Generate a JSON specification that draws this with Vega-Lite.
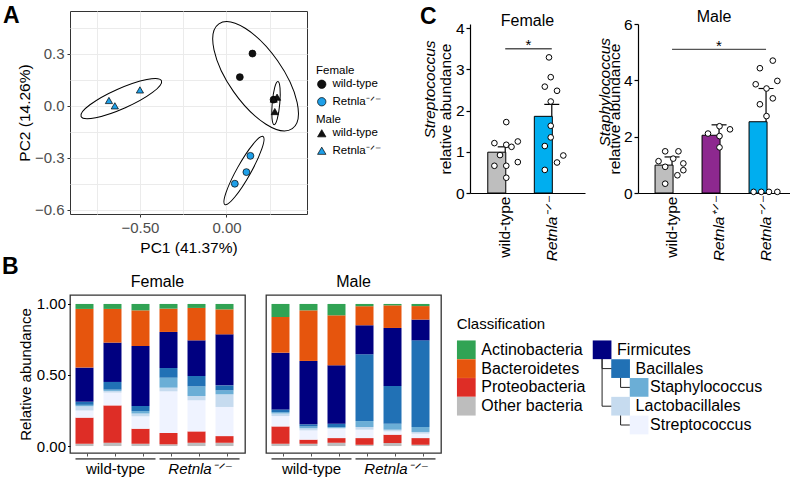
{
  "$schema": "https://vega.github.io/schema/vega-lite/v6.json",
  "background": "white",
  "padding": {"left": 2, "top": 4, "right": 0, "bottom": 0},
  "config": {
    "font": "Liberation Sans",
    "view": {"stroke": null},
    "axis": {"labelFont": "Liberation Sans", "titleFont": "Liberation Sans", "labelFontSize": 15, "titleFontSize": 15, "titleFontWeight": "normal", "labelColor": "black", "titleColor": "black", "domainColor": "black", "tickColor": "black", "grid": false, "labelFlush": false, "labelOverlap": false},
    "title": {"font": "Liberation Sans", "fontWeight": "normal", "fontSize": 16, "color": "black", "baseline": "alphabetic", "offset": 0},
    "text": {"font": "Liberation Sans"},
    "legend": {"labelFont": "Liberation Sans", "titleFont": "Liberation Sans"}
  },
  "datasets": {
    "pcaF": [
      {"pc1": 0.150, "pc2": 0.302, "genotype": "wild-type"},
      {"pc1": 0.077, "pc2": 0.166, "genotype": "wild-type"},
      {"pc1": 0.272, "pc2": 0.036, "genotype": "wild-type"},
      {"pc1": 0.138, "pc2": -0.289, "genotype": "Retnla-/-"},
      {"pc1": 0.115, "pc2": -0.383, "genotype": "Retnla-/-"},
      {"pc1": 0.048, "pc2": -0.450, "genotype": "Retnla-/-"}
    ],
    "pcaM": [
      {"pc1": 0.292, "pc2": 0.050, "genotype": "wild-type"},
      {"pc1": 0.273, "pc2": 0.039, "genotype": "wild-type"},
      {"pc1": 0.279, "pc2": -0.033, "genotype": "wild-type"},
      {"pc1": -0.500, "pc2": 0.092, "genotype": "Retnla-/-"},
      {"pc1": -0.679, "pc2": 0.031, "genotype": "Retnla-/-"},
      {"pc1": -0.645, "pc2": 0.000, "genotype": "Retnla-/-"}
    ],
    "ellipses": [
      {"group": "Male Retnla-/-", "pc1": -0.608, "pc2": 0.042},
      {"group": "Female wild-type", "pc1": 0.168, "pc2": 0.171},
      {"group": "Male wild-type", "pc1": 0.286, "pc2": 0.016},
      {"group": "Female Retnla-/-", "pc1": 0.101, "pc2": -0.374}
    ],
    "cFbars": [
      {"genotype": "wild-type", "mean": 0.99, "upper": 1.12},
      {"genotype": "Retnla-/-", "mean": 1.86, "upper": 2.15}
    ],
    "cFpts": [
      {"genotype": "wild-type", "value": 1.72, "jit": 0.03},
      {"genotype": "wild-type", "value": 1.21, "jit": -0.31},
      {"genotype": "wild-type", "value": 1.17, "jit": 0.03},
      {"genotype": "wild-type", "value": 1.12, "jit": 0.18},
      {"genotype": "wild-type", "value": 1.25, "jit": 0.36},
      {"genotype": "wild-type", "value": 0.92, "jit": -0.15},
      {"genotype": "wild-type", "value": 0.66, "jit": -0.31},
      {"genotype": "wild-type", "value": 0.66, "jit": 0.03},
      {"genotype": "wild-type", "value": 0.75, "jit": 0.36},
      {"genotype": "wild-type", "value": 0.37, "jit": 0.03},
      {"genotype": "Retnla-/-", "value": 3.29, "jit": -0.08},
      {"genotype": "Retnla-/-", "value": 2.81, "jit": -0.03},
      {"genotype": "Retnla-/-", "value": 2.58, "jit": -0.2},
      {"genotype": "Retnla-/-", "value": 2.48, "jit": 0.15},
      {"genotype": "Retnla-/-", "value": 2.22, "jit": -0.03},
      {"genotype": "Retnla-/-", "value": 1.63, "jit": -0.03},
      {"genotype": "Retnla-/-", "value": 1.35, "jit": -0.03},
      {"genotype": "Retnla-/-", "value": 1.14, "jit": -0.2},
      {"genotype": "Retnla-/-", "value": 0.91, "jit": 0.33},
      {"genotype": "Retnla-/-", "value": 0.74, "jit": 0.15},
      {"genotype": "Retnla-/-", "value": 0.56, "jit": -0.2}
    ],
    "cFsig": [{"from": "wild-type", "to": "Retnla-/-", "y": 3.5, "star": "*", "ystar": 3.58}],
    "cMbars": [
      {"genotype": "wild-type", "mean": 0.99, "upper": 1.28},
      {"genotype": "Retnla+/-", "mean": 2.05, "upper": 2.42},
      {"genotype": "Retnla-/-", "mean": 2.53, "upper": 3.71}
    ],
    "cMpts": [
      {"genotype": "wild-type", "value": 1.48, "jit": -0.21},
      {"genotype": "wild-type", "value": 1.48, "jit": 0.17},
      {"genotype": "wild-type", "value": 1.13, "jit": -0.4},
      {"genotype": "wild-type", "value": 1.22, "jit": 0.02},
      {"genotype": "wild-type", "value": 1.05, "jit": 0.31},
      {"genotype": "wild-type", "value": 0.93, "jit": -0.21},
      {"genotype": "wild-type", "value": 0.81, "jit": 0.31},
      {"genotype": "wild-type", "value": 0.63, "jit": 0.14},
      {"genotype": "wild-type", "value": 0.33, "jit": -0.21},
      {"genotype": "Retnla+/-", "value": 2.11, "jit": -0.33},
      {"genotype": "Retnla+/-", "value": 2.37, "jit": 0},
      {"genotype": "Retnla+/-", "value": 2.26, "jit": 0.3},
      {"genotype": "Retnla+/-", "value": 2.02, "jit": 0},
      {"genotype": "Retnla+/-", "value": 1.62, "jit": 0},
      {"genotype": "Retnla-/-", "value": 4.70, "jit": 0.18},
      {"genotype": "Retnla-/-", "value": 4.43, "jit": -0.19},
      {"genotype": "Retnla-/-", "value": 3.98, "jit": 0.31},
      {"genotype": "Retnla-/-", "value": 3.86, "jit": -0.31},
      {"genotype": "Retnla-/-", "value": 3.71, "jit": 0},
      {"genotype": "Retnla-/-", "value": 3.36, "jit": 0.18},
      {"genotype": "Retnla-/-", "value": 3.15, "jit": -0.19},
      {"genotype": "Retnla-/-", "value": 2.73, "jit": 0},
      {"genotype": "Retnla-/-", "value": 0.04, "jit": -0.37},
      {"genotype": "Retnla-/-", "value": 0.04, "jit": -0.15},
      {"genotype": "Retnla-/-", "value": 0.04, "jit": 0.07},
      {"genotype": "Retnla-/-", "value": 0.04, "jit": 0.31}
    ],
    "cMsig": [{"from": "wild-type", "to": "Retnla-/-", "mid": "Retnla+/-", "y": 5.1, "star": "*", "ystar": 5.22}],
    "taxa": [
      {"taxon": "Other bacteria", "rank": 0},
      {"taxon": "Proteobacteria", "rank": 1},
      {"taxon": "Streptococcus", "rank": 2},
      {"taxon": "Lactobacillales", "rank": 3},
      {"taxon": "Staphylococcus", "rank": 4},
      {"taxon": "Bacillales", "rank": 5},
      {"taxon": "Firmicutes", "rank": 6},
      {"taxon": "Bacteroidetes", "rank": 7},
      {"taxon": "Actinobacteria", "rank": 8}
    ],
    "bF": [
      {"sample": "F1", "taxon": "Other bacteria", "value": 0.016}, {"sample": "F1", "taxon": "Proteobacteria", "value": 0.184}, {"sample": "F1", "taxon": "Streptococcus", "value": 0.05}, {"sample": "F1", "taxon": "Lactobacillales", "value": 0.03}, {"sample": "F1", "taxon": "Staphylococcus", "value": 0.01}, {"sample": "F1", "taxon": "Bacillales", "value": 0.022}, {"sample": "F1", "taxon": "Firmicutes", "value": 0.24}, {"sample": "F1", "taxon": "Bacteroidetes", "value": 0.413}, {"sample": "F1", "taxon": "Actinobacteria", "value": 0.035},
      {"sample": "F2", "taxon": "Other bacteria", "value": 0.023}, {"sample": "F2", "taxon": "Proteobacteria", "value": 0.263}, {"sample": "F2", "taxon": "Streptococcus", "value": 0.09}, {"sample": "F2", "taxon": "Lactobacillales", "value": 0.012}, {"sample": "F2", "taxon": "Staphylococcus", "value": 0.009}, {"sample": "F2", "taxon": "Bacillales", "value": 0.054}, {"sample": "F2", "taxon": "Firmicutes", "value": 0.277}, {"sample": "F2", "taxon": "Bacteroidetes", "value": 0.237}, {"sample": "F2", "taxon": "Actinobacteria", "value": 0.035},
      {"sample": "F3", "taxon": "Other bacteria", "value": 0.016}, {"sample": "F3", "taxon": "Proteobacteria", "value": 0.106}, {"sample": "F3", "taxon": "Streptococcus", "value": 0.087}, {"sample": "F3", "taxon": "Lactobacillales", "value": 0.02}, {"sample": "F3", "taxon": "Staphylococcus", "value": 0.017}, {"sample": "F3", "taxon": "Bacillales", "value": 0.036}, {"sample": "F3", "taxon": "Firmicutes", "value": 0.422}, {"sample": "F3", "taxon": "Bacteroidetes", "value": 0.251}, {"sample": "F3", "taxon": "Actinobacteria", "value": 0.045},
      {"sample": "F4", "taxon": "Other bacteria", "value": 0.012}, {"sample": "F4", "taxon": "Proteobacteria", "value": 0.08}, {"sample": "F4", "taxon": "Streptococcus", "value": 0.293}, {"sample": "F4", "taxon": "Lactobacillales", "value": 0.026}, {"sample": "F4", "taxon": "Staphylococcus", "value": 0.07}, {"sample": "F4", "taxon": "Bacillales", "value": 0.068}, {"sample": "F4", "taxon": "Firmicutes", "value": 0.254}, {"sample": "F4", "taxon": "Bacteroidetes", "value": 0.164}, {"sample": "F4", "taxon": "Actinobacteria", "value": 0.033},
      {"sample": "F5", "taxon": "Other bacteria", "value": 0.023}, {"sample": "F5", "taxon": "Proteobacteria", "value": 0.08}, {"sample": "F5", "taxon": "Streptococcus", "value": 0.219}, {"sample": "F5", "taxon": "Lactobacillales", "value": 0.03}, {"sample": "F5", "taxon": "Staphylococcus", "value": 0.068}, {"sample": "F5", "taxon": "Bacillales", "value": 0.073}, {"sample": "F5", "taxon": "Firmicutes", "value": 0.251}, {"sample": "F5", "taxon": "Bacteroidetes", "value": 0.228}, {"sample": "F5", "taxon": "Actinobacteria", "value": 0.028},
      {"sample": "F6", "taxon": "Other bacteria", "value": 0.023}, {"sample": "F6", "taxon": "Proteobacteria", "value": 0.047}, {"sample": "F6", "taxon": "Streptococcus", "value": 0.205}, {"sample": "F6", "taxon": "Lactobacillales", "value": 0.089}, {"sample": "F6", "taxon": "Staphylococcus", "value": 0.028}, {"sample": "F6", "taxon": "Bacillales", "value": 0.035}, {"sample": "F6", "taxon": "Firmicutes", "value": 0.359}, {"sample": "F6", "taxon": "Bacteroidetes", "value": 0.176}, {"sample": "F6", "taxon": "Actinobacteria", "value": 0.038}
    ],
    "bM": [
      {"sample": "M1", "taxon": "Other bacteria", "value": 0.016}, {"sample": "M1", "taxon": "Proteobacteria", "value": 0.122}, {"sample": "M1", "taxon": "Streptococcus", "value": 0.073}, {"sample": "M1", "taxon": "Lactobacillales", "value": 0.018}, {"sample": "M1", "taxon": "Staphylococcus", "value": 0.01}, {"sample": "M1", "taxon": "Bacillales", "value": 0.019}, {"sample": "M1", "taxon": "Firmicutes", "value": 0.399}, {"sample": "M1", "taxon": "Bacteroidetes", "value": 0.251}, {"sample": "M1", "taxon": "Actinobacteria", "value": 0.092},
      {"sample": "M2", "taxon": "Other bacteria", "value": 0.016}, {"sample": "M2", "taxon": "Proteobacteria", "value": 0.029}, {"sample": "M2", "taxon": "Streptococcus", "value": 0.065}, {"sample": "M2", "taxon": "Lactobacillales", "value": 0.015}, {"sample": "M2", "taxon": "Staphylococcus", "value": 0.013}, {"sample": "M2", "taxon": "Bacillales", "value": 0.015}, {"sample": "M2", "taxon": "Firmicutes", "value": 0.446}, {"sample": "M2", "taxon": "Bacteroidetes", "value": 0.356}, {"sample": "M2", "taxon": "Actinobacteria", "value": 0.045},
      {"sample": "M3", "taxon": "Other bacteria", "value": 0.023}, {"sample": "M3", "taxon": "Proteobacteria", "value": 0.033}, {"sample": "M3", "taxon": "Streptococcus", "value": 0.066}, {"sample": "M3", "taxon": "Lactobacillales", "value": 0.006}, {"sample": "M3", "taxon": "Staphylococcus", "value": 0.006}, {"sample": "M3", "taxon": "Bacillales", "value": 0.023}, {"sample": "M3", "taxon": "Firmicutes", "value": 0.411}, {"sample": "M3", "taxon": "Bacteroidetes", "value": 0.352}, {"sample": "M3", "taxon": "Actinobacteria", "value": 0.08},
      {"sample": "M4", "taxon": "Other bacteria", "value": 0.009}, {"sample": "M4", "taxon": "Proteobacteria", "value": 0.047}, {"sample": "M4", "taxon": "Streptococcus", "value": 0.059}, {"sample": "M4", "taxon": "Lactobacillales", "value": 0.019}, {"sample": "M4", "taxon": "Staphylococcus", "value": 0.042}, {"sample": "M4", "taxon": "Bacillales", "value": 0.47}, {"sample": "M4", "taxon": "Firmicutes", "value": 0.204}, {"sample": "M4", "taxon": "Bacteroidetes", "value": 0.134}, {"sample": "M4", "taxon": "Actinobacteria", "value": 0.016},
      {"sample": "M5", "taxon": "Other bacteria", "value": 0.021}, {"sample": "M5", "taxon": "Proteobacteria", "value": 0.059}, {"sample": "M5", "taxon": "Streptococcus", "value": 0.023}, {"sample": "M5", "taxon": "Lactobacillales", "value": 0.012}, {"sample": "M5", "taxon": "Staphylococcus", "value": 0.042}, {"sample": "M5", "taxon": "Bacillales", "value": 0.266}, {"sample": "M5", "taxon": "Firmicutes", "value": 0.408}, {"sample": "M5", "taxon": "Bacteroidetes", "value": 0.159}, {"sample": "M5", "taxon": "Actinobacteria", "value": 0.01},
      {"sample": "M6", "taxon": "Other bacteria", "value": 0.009}, {"sample": "M6", "taxon": "Proteobacteria", "value": 0.047}, {"sample": "M6", "taxon": "Streptococcus", "value": 0.031}, {"sample": "M6", "taxon": "Lactobacillales", "value": 0.012}, {"sample": "M6", "taxon": "Staphylococcus", "value": 0.035}, {"sample": "M6", "taxon": "Bacillales", "value": 0.61}, {"sample": "M6", "taxon": "Firmicutes", "value": 0.146}, {"sample": "M6", "taxon": "Bacteroidetes", "value": 0.095}, {"sample": "M6", "taxon": "Actinobacteria", "value": 0.015}
    ],
    "bGroups": [{"group": "wild-type"}, {"group": "Retnla-/-"}],
    "legPhyla": [
      {"taxon": "Actinobacteria", "row": 0},
      {"taxon": "Bacteroidetes", "row": 1},
      {"taxon": "Proteobacteria", "row": 2},
      {"taxon": "Other bacteria", "row": 3}
    ],
    "legTree": [
      {"taxon": "Firmicutes", "row": 0, "depth": 0, "parentRow": null, "parentDepth": null},
      {"taxon": "Bacillales", "row": 1, "depth": 1, "parentRow": 0, "parentDepth": 0},
      {"taxon": "Staphylococcus", "row": 2, "depth": 2, "parentRow": 1, "parentDepth": 1},
      {"taxon": "Lactobacillales", "row": 3, "depth": 1, "parentRow": 0, "parentDepth": 0},
      {"taxon": "Streptococcus", "row": 4, "depth": 2, "parentRow": 3, "parentDepth": 1}
    ]
  },
  "resolve": {"scale": {"fill": "independent"}},
  "bounds": "full",
  "spacing": -5,
  "vconcat": [
    {
      "hconcat": [
        {
          "width": 237, "height": 203,
          "view": {"stroke": "#333333", "strokeWidth": 1},
          "title": {"text": "A", "anchor": "start", "frame": "group", "fontSize": 23, "fontWeight": "bold", "dx": -67, "dy": 21},
          "encoding": {
            "x": {"field": "pc1", "type": "quantitative", "scale": {"domain": [-0.904, 0.465], "nice": false, "zero": false},
              "axis": {"title": "PC1 (41.37%)", "values": [-0.75, -0.5, -0.25, 0, 0.25], "labelExpr": "datum.value == -0.5 ? '−0.50' : datum.value == 0 ? '0.00' : ''", "grid": true, "gridColor": "#ebebeb", "domain": false, "tickColor": "#333333", "tickSize": 3, "tickOpacity": {"condition": {"test": "datum.value == -0.5 || datum.value == 0", "value": 1}, "value": 0}, "labelColor": "#4d4d4d", "labelFontSize": 15, "labelPadding": 3, "titleFontSize": 15.5, "titlePadding": 5}},
            "y": {"field": "pc2", "type": "quantitative", "scale": {"domain": [-0.625, 0.548], "nice": false, "zero": false},
              "axis": {"title": "PC2 (14.26%)", "values": [-0.6, -0.45, -0.3, -0.15, 0, 0.15, 0.3, 0.45], "labelExpr": "datum.value == 0.3 ? '0.3' : datum.value == 0 ? '0.0' : datum.value == -0.3 ? '−0.3' : datum.value == -0.6 ? '−0.6' : ''", "grid": true, "gridColor": "#ebebeb", "domain": false, "tickColor": "#333333", "tickSize": 3, "tickOpacity": {"condition": {"test": "datum.value == -0.6 || datum.value == -0.3 || datum.value == 0 || datum.value == 0.3", "value": 1}, "value": 0}, "labelColor": "#4d4d4d", "labelFontSize": 15, "labelPadding": 3, "titleFontSize": 15.5, "titlePadding": 2}}
          },
          "layer": [
            {"data": {"name": "ellipses"}, "transform": [{"filter": "datum.group == 'Male Retnla-/-'"}],
             "mark": {"type": "point", "shape": "M-1,0A1,0.227,0,1,1,1,0A1,0.227,0,1,1,-1,0Z", "size": 7744, "angle": -24, "filled": false, "stroke": "black", "strokeWidth": 1, "opacity": 1}},
            {"data": {"name": "ellipses"}, "transform": [{"filter": "datum.group == 'Female wild-type'"}],
             "mark": {"type": "point", "shape": "M-1,0A1,0.42,0,1,1,1,0A1,0.42,0,1,1,-1,0Z", "size": 16384, "angle": 55, "filled": false, "stroke": "black", "strokeWidth": 1, "opacity": 1}},
            {"data": {"name": "ellipses"}, "transform": [{"filter": "datum.group == 'Male wild-type'"}],
             "mark": {"type": "point", "shape": "M-1,0A1,0.175,0,1,1,1,0A1,0.175,0,1,1,-1,0Z", "size": 1883, "angle": 95, "filled": false, "stroke": "black", "strokeWidth": 1, "opacity": 1}},
            {"data": {"name": "ellipses"}, "transform": [{"filter": "datum.group == 'Female Retnla-/-'"}],
             "mark": {"type": "point", "shape": "M-1,0A1,0.18,0,1,1,1,0A1,0.18,0,1,1,-1,0Z", "size": 6084, "angle": -60.7, "filled": false, "stroke": "black", "strokeWidth": 1, "opacity": 1}},
            {"data": {"name": "pcaF"},
             "mark": {"type": "point", "shape": "circle", "filled": true, "size": 48, "stroke": "black", "strokeWidth": 0.7, "opacity": 1},
             "encoding": {"fill": {"field": "genotype", "type": "nominal", "scale": {"domain": ["wild-type", "Retnla-/-"], "range": ["#111111", "#1e9fe8"]},
               "legend": {"title": "Female", "orient": "none", "legendX": 246, "legendY": 54, "padding": 0, "titleFontSize": 11.5, "titleFontWeight": "normal", "titleColor": "black", "titlePadding": 2, "labelFontSize": 11.5, "labelColor": "black", "labelOffset": 5, "rowPadding": 4.5, "symbolSize": 70, "symbolType": "circle", "symbolStrokeColor": "black", "symbolStrokeWidth": 0.7,
                 "labelExpr": "datum.value == 'Retnla-/-' ? 'Retnla⁻ᐟ⁻' : datum.label",
                 "encode": {"labels": {"update": {"fontStyle": {"signal": "datum.value == 'Retnla-/-' ? 'italic' : 'normal'"}}}}}}}},
            {"data": {"name": "pcaM"},
             "mark": {"type": "point", "shape": "triangle-up", "filled": true, "size": 52, "stroke": "black", "strokeWidth": 0.7, "opacity": 1},
             "encoding": {"fill": {"field": "genotype", "type": "nominal", "scale": {"domain": ["wild-type", "Retnla-/-"], "range": ["#111111", "#1e9fe8"]},
               "legend": {"title": "Male", "orient": "none", "legendX": 246, "legendY": 103, "padding": 0, "titleFontSize": 11.5, "titleFontWeight": "normal", "titleColor": "black", "titlePadding": 2, "labelFontSize": 11.5, "labelColor": "black", "labelOffset": 5, "rowPadding": 4.5, "symbolSize": 70, "symbolType": "triangle-up", "symbolStrokeColor": "black", "symbolStrokeWidth": 0.7,
                 "labelExpr": "datum.value == 'Retnla-/-' ? 'Retnla⁻ᐟ⁻' : datum.label",
                 "encode": {"labels": {"update": {"fontStyle": {"signal": "datum.value == 'Retnla-/-' ? 'italic' : 'normal'"}}}}}}}}
          ],
          "resolve": {"scale": {"fill": "independent"}, "legend": {"fill": "independent"}}
        },
        {
          "title": {"text": "C", "anchor": "start", "frame": "group", "fontSize": 23, "fontWeight": "bold", "dx": -50, "dy": 24},
          "bounds": "flush",
          "spacing": 12,
          "vconcat": [
            {"width": 1, "height": 1, "data": {"values": [{"s": 0}]}, "mark": {"type": "point", "opacity": 0}, "encoding": {}},
            {
              "bounds": "flush",
              "spacing": 53,
              "resolve": {"scale": {"fill": "independent"}},
              "hconcat": [
                {
                  "width": 115, "height": 169,
                  "title": {"text": "Female", "fontSize": 16, "dy": 12},
                  "layer": [
                    {"layer": [
                      {"data": {"name": "cFbars"}, "mark": {"type": "bar", "stroke": "black", "strokeWidth": 1},
                       "encoding": {
                         "x": {"field": "genotype", "type": "nominal", "sort": ["wild-type", "Retnla-/-"], "scale": {"domain": ["wild-type", "Retnla-/-"], "paddingInner": 0.25, "paddingOuter": 0.36, "align": 0.53},
                           "axis": {"title": null, "labelAngle": -90, "labelPadding": 3, "ticks": false, "domainWidth": 1.2, "labelFontSize": 15.5, "labelExpr": "datum.value == 'Retnla-/-' ? 'Retnla⁻ᐟ⁻' : datum.label", "labelFontStyle": {"condition": {"test": "datum.value != 'wild-type'", "value": "italic"}, "value": "normal"}}},
                         "y": {"field": "mean", "type": "quantitative", "scale": {"domain": [0, 4.1], "nice": false}, "axis": {"title": "relative abundance", "values": [0, 1, 2, 3, 4], "tickSize": 4, "domainWidth": 1.2, "tickWidth": 1.2, "labelPadding": 2, "titlePadding": 2, "labelFontSize": 15.5, "titleFontSize": 15.5}},
                         "fill": {"field": "genotype", "type": "nominal", "scale": {"domain": ["wild-type", "Retnla-/-"], "range": ["#bebebe", "#00aeef"]}, "legend": null}
                       }},
                      {"data": {"name": "cFbars"}, "mark": {"type": "rule", "stroke": "black", "strokeWidth": 1.2},
                       "encoding": {"x": {"field": "genotype", "type": "nominal"}, "y": {"field": "mean", "type": "quantitative"}, "y2": {"field": "upper"}}},
                      {"data": {"name": "cFbars"}, "mark": {"type": "tick", "color": "black", "thickness": 1.2, "size": 15, "opacity": 1},
                       "encoding": {"x": {"field": "genotype", "type": "nominal"}, "y": {"field": "upper", "type": "quantitative"}}},
                      {"data": {"name": "cFpts"}, "mark": {"type": "point", "filled": true, "fill": "white", "stroke": "black", "strokeWidth": 1, "size": 32, "opacity": 1},
                       "encoding": {"x": {"field": "genotype", "type": "nominal"}, "xOffset": {"field": "jit", "type": "quantitative", "scale": {"domain": [-0.5, 0.5]}}, "y": {"field": "value", "type": "quantitative"}}},
                      {"data": {"name": "cFsig"}, "mark": {"type": "rule", "stroke": "#555555", "strokeWidth": 1.3},
                       "encoding": {"x": {"field": "from", "type": "nominal"}, "x2": {"field": "to"}, "y": {"field": "y", "type": "quantitative"}}},
                      {"data": {"name": "cFsig"}, "mark": {"type": "text", "fontSize": 15, "dx": 23.3, "baseline": "middle", "align": "center"},
                       "encoding": {"x": {"field": "from", "type": "nominal"}, "y": {"field": "ystar", "type": "quantitative"}, "text": {"field": "star"}}}
                    ]},
                    {"data": {"name": "cFbars"}, "mark": {"type": "point", "opacity": 0},
                     "encoding": {"y": {"field": "mean", "type": "quantitative", "scale": {"domain": [0, 4.1], "nice": false},
                       "axis": {"orient": "left", "title": "Streptococcus", "titleFontStyle": "italic", "labels": false, "ticks": false, "domain": false, "titlePadding": 33, "titleFontSize": 15.5, "titleY": 65}}}}
                  ],
                  "resolve": {"scale": {"y": "independent"}}
                },
                {
                  "width": 152, "height": 169,
                  "title": {"text": "Male", "fontSize": 16, "dy": 12},
                  "layer": [
                    {"layer": [
                      {"data": {"name": "cMbars"}, "mark": {"type": "bar", "stroke": "black", "strokeWidth": 1},
                       "encoding": {
                         "x": {"field": "genotype", "type": "nominal", "sort": ["wild-type", "Retnla+/-", "Retnla-/-"], "scale": {"domain": ["wild-type", "Retnla+/-", "Retnla-/-"], "paddingInner": 0.277, "paddingOuter": 0.2555, "align": 0.71},
                           "axis": {"title": null, "labelAngle": -90, "labelPadding": 3, "ticks": false, "domainWidth": 1.2, "labelFontSize": 15.5, "labelExpr": "datum.value == 'Retnla-/-' ? 'Retnla⁻ᐟ⁻' : datum.value == 'Retnla+/-' ? 'Retnla⁺ᐟ⁻' : datum.label", "labelFontStyle": {"condition": {"test": "datum.value != 'wild-type'", "value": "italic"}, "value": "normal"}}},
                         "y": {"field": "mean", "type": "quantitative", "scale": {"domain": [0, 6], "nice": false}, "axis": {"title": "relative abundance", "values": [0, 2, 4, 6], "tickSize": 4, "domainWidth": 1.2, "tickWidth": 1.2, "labelPadding": 2, "titlePadding": 1, "labelFontSize": 15.5, "titleFontSize": 15.5}},
                         "fill": {"field": "genotype", "type": "nominal", "scale": {"domain": ["wild-type", "Retnla+/-", "Retnla-/-"], "range": ["#bebebe", "#8d288f", "#00aeef"]}, "legend": null}
                       }},
                      {"data": {"name": "cMbars"}, "mark": {"type": "rule", "stroke": "black", "strokeWidth": 1.2},
                       "encoding": {"x": {"field": "genotype", "type": "nominal"}, "y": {"field": "mean", "type": "quantitative"}, "y2": {"field": "upper"}}},
                      {"data": {"name": "cMbars"}, "mark": {"type": "tick", "color": "black", "thickness": 1.2, "size": 15, "opacity": 1},
                       "encoding": {"x": {"field": "genotype", "type": "nominal"}, "y": {"field": "upper", "type": "quantitative"}}},
                      {"data": {"name": "cMpts"}, "mark": {"type": "point", "filled": true, "fill": "white", "stroke": "black", "strokeWidth": 1, "size": 32, "opacity": 1},
                       "encoding": {"x": {"field": "genotype", "type": "nominal"}, "xOffset": {"field": "jit", "type": "quantitative", "scale": {"domain": [-0.5, 0.5]}}, "y": {"field": "value", "type": "quantitative"}}},
                      {"data": {"name": "cMsig"}, "mark": {"type": "rule", "stroke": "#555555", "strokeWidth": 1.3},
                       "encoding": {"x": {"field": "from", "type": "nominal"}, "x2": {"field": "to"}, "y": {"field": "y", "type": "quantitative"}}},
                      {"data": {"name": "cMsig"}, "mark": {"type": "text", "fontSize": 15, "baseline": "middle", "align": "center"},
                       "encoding": {"x": {"field": "mid", "type": "nominal"}, "y": {"field": "ystar", "type": "quantitative"}, "text": {"field": "star"}}}
                    ]},
                    {"data": {"name": "cMbars"}, "mark": {"type": "point", "opacity": 0},
                     "encoding": {"y": {"field": "mean", "type": "quantitative", "scale": {"domain": [0, 6], "nice": false},
                       "axis": {"orient": "left", "title": "Staphylococcus", "titleFontStyle": "italic", "labels": false, "ticks": false, "domain": false, "titlePadding": 26, "titleFontSize": 15.5, "titleY": 67.7}}}}
                  ],
                  "resolve": {"scale": {"y": "independent"}}
                }
              ]
            }
          ]
        }
      ],
      "spacing": 163,
      "bounds": "flush",
      "resolve": {"scale": {"fill": "independent"}}
    },
    {
      "title": {"text": "B", "anchor": "start", "frame": "group", "fontSize": 23, "fontWeight": "bold", "dx": -68, "dy": 10},
      "hconcat": [
        {
          "width": 175, "height": 158,
          "view": {"stroke": "#333333", "strokeWidth": 1.3},
          "title": {"text": "Female", "fontSize": 16, "offset": 5},
          "layer": [
            {"data": {"name": "bF"},
             "transform": [{"lookup": "taxon", "from": {"data": {"name": "taxa"}, "key": "taxon", "fields": ["rank"]}}],
             "mark": {"type": "bar"},
             "encoding": {
               "x": {"field": "sample", "type": "nominal", "scale": {"paddingInner": 0.143, "paddingOuter": 0.196}, "axis": {"title": null, "labels": false, "domain": false, "ticks": true, "tickSize": 3, "tickColor": "#555555"}},
               "y": {"field": "value", "type": "quantitative", "stack": "zero", "scale": {"domain": [-0.049, 1.063], "nice": false, "zero": false}, "axis": {"title": "Relative abundance", "values": [0, 0.25, 0.5, 0.75, 1], "format": ".2f", "domain": false, "tickSize": 2.5, "labelPadding": 2, "titlePadding": 3, "labelFontSize": 15, "titleFontSize": 15}},
               "order": {"field": "rank", "type": "quantitative", "sort": "ascending"},
               "fill": {"field": "taxon", "type": "nominal", "scale": {"domain": ["Other bacteria", "Proteobacteria", "Streptococcus", "Lactobacillales", "Staphylococcus", "Bacillales", "Firmicutes", "Bacteroidetes", "Actinobacteria"], "range": ["#bdbdbd", "#de2d26", "#eff3ff", "#c6dbef", "#6baed6", "#2171b5", "#000080", "#e6550d", "#31a354"]}, "legend": null}
             }},
            {"data": {"name": "bGroups"}, "mark": {"type": "tick", "color": "#666666", "thickness": 1.6, "size": 80, "opacity": 1},
             "encoding": {
               "x": {"field": "group", "type": "nominal", "sort": ["wild-type", "Retnla-/-"], "scale": {"type": "band", "domain": ["wild-type", "Retnla-/-"], "paddingInner": 0.048, "paddingOuter": 0.0655}, "axis": {"orient": "bottom", "title": null, "domain": false, "ticks": false, "labelPadding": 8, "labelAngle": 0, "labelFontSize": 15, "labelExpr": "datum.value == 'Retnla-/-' ? 'Retnla⁻ᐟ⁻' : datum.label", "labelFontStyle": {"condition": {"test": "datum.value != 'wild-type'", "value": "italic"}, "value": "normal"}}},
               "y": {"datum": -0.09}
             }}
          ],
          "resolve": {"scale": {"x": "independent"}}
        },
        {
          "width": 175, "height": 158,
          "view": {"stroke": "#333333", "strokeWidth": 1.3},
          "title": {"text": "Male", "fontSize": 16, "offset": 5},
          "layer": [
            {"data": {"name": "bM"},
             "transform": [{"lookup": "taxon", "from": {"data": {"name": "taxa"}, "key": "taxon", "fields": ["rank"]}}],
             "mark": {"type": "bar"},
             "encoding": {
               "x": {"field": "sample", "type": "nominal", "scale": {"paddingInner": 0.143, "paddingOuter": 0.196}, "axis": {"title": null, "labels": false, "domain": false, "ticks": true, "tickSize": 3, "tickColor": "#555555"}},
               "y": {"field": "value", "type": "quantitative", "stack": "zero", "scale": {"domain": [-0.049, 1.063], "nice": false, "zero": false}, "axis": null},
               "order": {"field": "rank", "type": "quantitative", "sort": "ascending"},
               "fill": {"field": "taxon", "type": "nominal", "scale": {"domain": ["Other bacteria", "Proteobacteria", "Streptococcus", "Lactobacillales", "Staphylococcus", "Bacillales", "Firmicutes", "Bacteroidetes", "Actinobacteria"], "range": ["#bdbdbd", "#de2d26", "#eff3ff", "#c6dbef", "#6baed6", "#2171b5", "#000080", "#e6550d", "#31a354"]}, "legend": null}
             }},
            {"data": {"name": "bGroups"}, "mark": {"type": "tick", "color": "#666666", "thickness": 1.6, "size": 80, "opacity": 1},
             "encoding": {
               "x": {"field": "group", "type": "nominal", "sort": ["wild-type", "Retnla-/-"], "scale": {"type": "band", "domain": ["wild-type", "Retnla-/-"], "paddingInner": 0.048, "paddingOuter": 0.0655}, "axis": {"orient": "bottom", "title": null, "domain": false, "ticks": false, "labelPadding": 8, "labelAngle": 0, "labelFontSize": 15, "labelExpr": "datum.value == 'Retnla-/-' ? 'Retnla⁻ᐟ⁻' : datum.label", "labelFontStyle": {"condition": {"test": "datum.value != 'wild-type'", "value": "italic"}, "value": "normal"}}},
               "y": {"datum": -0.09, "axis": null}
             }}
          ],
          "resolve": {"scale": {"x": "independent"}}
        },
        {
          "width": 8.6, "height": 139.4,
          "title": {"text": "Classification", "anchor": "start", "frame": "group", "fontSize": 15, "dx": -5.3, "dy": 40.7},
          "data": {"name": "legPhyla"},
          "encoding": {"y": {"field": "row", "type": "quantitative", "scale": {"domain": [-2.915, 4.5], "reverse": true, "nice": false, "zero": false}, "axis": null}},
          "layer": [
            {"mark": {"type": "square", "size": 350, "opacity": 1},
             "encoding": {"fill": {"field": "taxon", "type": "nominal", "scale": {"domain": ["Other bacteria", "Proteobacteria", "Streptococcus", "Lactobacillales", "Staphylococcus", "Bacillales", "Firmicutes", "Bacteroidetes", "Actinobacteria"], "range": ["#bdbdbd", "#de2d26", "#eff3ff", "#c6dbef", "#6baed6", "#2171b5", "#000080", "#e6550d", "#31a354"]}, "legend": null}}},
            {"mark": {"type": "text", "align": "left", "baseline": "middle", "dx": 15, "fontSize": 16},
             "encoding": {"text": {"field": "taxon"}}}
          ]
        },
        {
          "width": 158.2, "height": 139.4,
          "data": {"name": "legTree"},
          "encoding": {
            "x": {"field": "depth", "type": "quantitative", "scale": {"domain": [-5.95, 2.6], "nice": false, "zero": false}, "axis": null},
            "y": {"field": "row", "type": "quantitative", "scale": {"domain": [-2.915, 4.5], "reverse": true, "nice": false, "zero": false}, "axis": null}
          },
          "layer": [
            {"transform": [{"filter": "datum.parentRow != null"}], "mark": {"type": "rule", "stroke": "#222222", "strokeWidth": 1},
             "encoding": {"x": {"field": "parentDepth", "type": "quantitative", "axis": null}, "y": {"field": "parentRow", "type": "quantitative", "axis": null}, "y2": {"field": "row"}}},
            {"transform": [{"filter": "datum.parentRow != null"}], "mark": {"type": "rule", "stroke": "#222222", "strokeWidth": 1},
             "encoding": {"x": {"field": "parentDepth", "type": "quantitative", "axis": null}, "x2": {"field": "depth"}, "y": {"field": "row", "type": "quantitative", "axis": null}}},
            {"mark": {"type": "square", "size": 350, "opacity": 1},
             "encoding": {"fill": {"field": "taxon", "type": "nominal", "scale": {"domain": ["Other bacteria", "Proteobacteria", "Streptococcus", "Lactobacillales", "Staphylococcus", "Bacillales", "Firmicutes", "Bacteroidetes", "Actinobacteria"], "range": ["#bdbdbd", "#de2d26", "#eff3ff", "#c6dbef", "#6baed6", "#2171b5", "#000080", "#e6550d", "#31a354"]}, "legend": null}}},
            {"transform": [{"filter": "datum.depth < 2"}], "mark": {"type": "text", "align": "left", "baseline": "middle", "dx": 15, "fontSize": 16},
             "encoding": {"text": {"field": "taxon"}}},
            {"transform": [{"filter": "datum.depth == 2"}], "mark": {"type": "text", "align": "left", "baseline": "middle", "dx": 11, "fontSize": 16},
             "encoding": {"text": {"field": "taxon"}}}
          ]
        }
      ],
      "spacing": 21,
      "bounds": "flush"
    }
  ]
}
